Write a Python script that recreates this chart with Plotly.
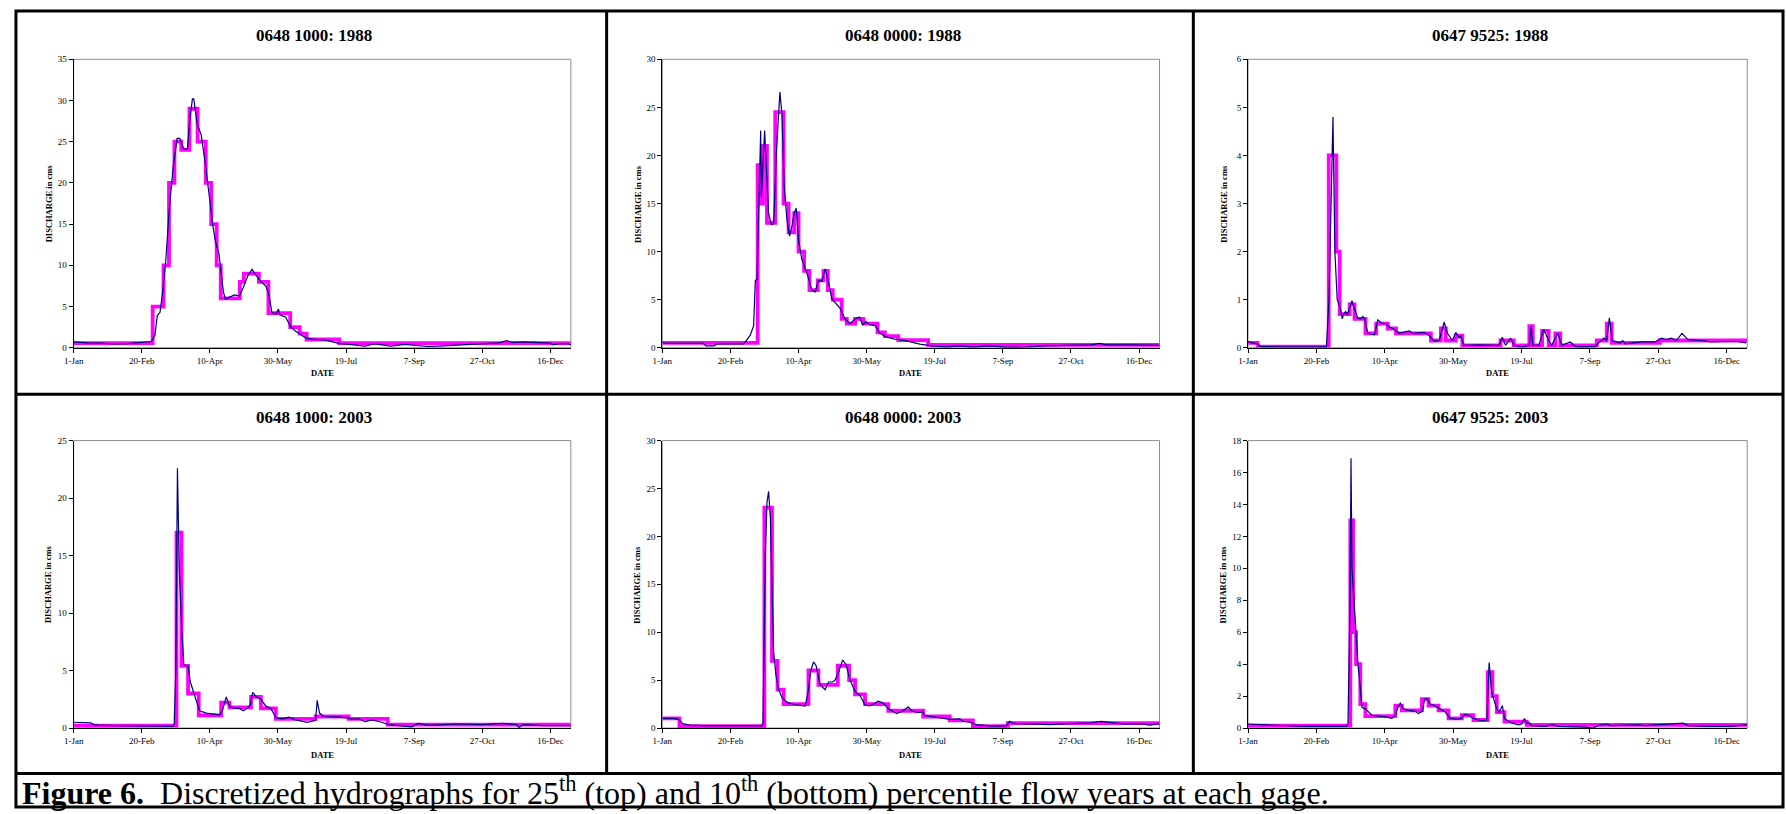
import plotly.graph_objects as go

W, H = 1786, 814

# ---------------- data ----------------
tick_days = [0, 50, 100, 150, 200, 250, 300, 350]
tick_labels = ["1-Jan", "20-Feb", "10-Apr", "30-May", "19-Jul", "7-Sep", "27-Oct", "16-Dec"]

titles = ["0648 1000: 1988", "0648 0000: 1988", "0647 9525: 1988",
          "0648 1000: 2003", "0648 0000: 2003", "0647 9525: 2003"]
y_max = [35, 30, 6, 25, 30, 18]
y_step = [5, 5, 1, 5, 5, 2]

# 0648 1000 : 1988
g1_88_day = [0, 3, 10, 20, 30, 40, 47, 52, 57, 59.7, 61.4, 63.4, 65.3, 67.7, 70.2, 73.1, 76, 77.9, 79.2, 80.9,
             83.5, 85.2, 87.2, 88.2, 90.6, 93.7, 96.9, 99.3, 102.2, 104.2, 106.6, 108.3, 110, 111.5, 114.4, 118,
             121.7, 124.6, 127.8, 131, 133.8, 137.5, 141.1, 143.6, 145.5, 148.4, 150.4, 151.3, 155.7, 159.4, 163,
             166.6, 170.3, 175.2, 184.9, 194.6, 204, 214, 221, 233, 243, 253, 260, 268, 280, 295, 305, 312, 318,
             322, 330, 340, 350, 352, 356, 362, 365]
g1_88_q = [0.7, 0.65, 0.6, 0.55, 0.45, 0.5, 0.6, 0.7, 0.75, 1.5, 3.9, 4.3, 6.7, 10.7, 16.8, 22, 25.4, 25.4, 24.8, 24.1,
           24.1, 27.6, 30.2, 30.2, 27.2, 25.8, 22, 18.4, 14.8, 12.8, 11.5, 9.1, 6.7, 5.9, 6.1, 6.4,
           6.3, 7.3, 8.7, 9.5, 8.8, 8.0, 7.5, 6.3, 4.3, 4.1, 4.7, 4.0, 3.7, 2.5, 2.0,
           1.6, 1.2, 1.05, 0.92, 0.52, 0.4, 0.2, 0.48, 0.2, 0.4, 0.24, 0.15, 0.2, 0.3, 0.4, 0.5, 0.6, 0.85,
           0.65, 0.7, 0.6, 0.55, 0.35, 0.5, 0.5, 0.35]
g1_88_step_day = [0, 58, 66, 70, 74, 79, 85, 91, 97, 101, 105, 108, 122, 125, 136, 143, 159, 166, 171, 195, 365]
g1_88_step_q = [0.55, 5, 10, 20, 25, 24, 29, 25, 20, 15, 10, 6, 8, 9, 8, 4.2, 2.5, 1.7, 1.0, 0.55, 0.55]

# 0648 0000 : 1988
g2_88_day = [0, 2, 30, 32, 38, 40, 59.8, 64.6, 67, 68.3, 69.5, 70.7, 72.2, 72.7, 73.4, 75.1, 76.1, 78, 80, 81.7,
             83.7, 85.4, 86.3, 87.8, 89.5, 91.5, 93.4, 95.1, 96.8, 98.3, 100, 102.4, 106.1, 109.8, 112.2, 114.6,
             117.1, 119.5, 122, 124.4, 126.8, 130.5, 134.1, 137.8, 141.5, 144.6, 147.1, 149.5, 152.4, 156.1,
             159.8, 164.6, 170.7, 179.3, 189, 198.8, 208.5, 218.3, 228, 240.2, 252.4, 265, 280, 300, 315, 321,
             326, 345, 365]
g2_88_q = [0.6, 0.45, 0.45, 0.2, 0.2, 0.4, 0.4, 1.3, 2.3, 7.0, 7.1, 15, 22.6, 15.7, 17.5, 22.6, 19.5, 14, 12.8, 12.9,
           20.2, 24.7, 26.6, 24.3, 16.8, 13.3, 11.6, 12.6, 14, 14.5, 11.2, 9.2, 7.8, 6.0, 5.8, 7.0,
           6.9, 8.2, 6.8, 5.1, 4.7, 4.1, 3.0, 2.5, 3.0, 3.2, 2.4, 2.7, 2.4, 2.3,
           1.5, 1.1, 0.9, 0.72, 0.38, 0.17, 0.1, 0.2, 0.07, 0.2, 0.07, 0.05, 0.2, 0.25, 0.3, 0.45,
           0.3, 0.3, 0.25]
g2_88_step_day = [0, 70, 72.7, 73.9, 76.8, 82.9, 89, 92.7, 96.8, 100, 104.1, 108, 114.1, 118.3, 121.5, 125.1,
                  131.7, 135.4, 141.5, 147.6, 158, 163.4, 173.2, 195.1, 365]
g2_88_step_q = [0.5, 19, 15, 21, 13, 24.5, 15, 12, 14, 10, 8, 6, 7, 8, 6, 5, 3, 2.5, 3, 2.5, 1.6, 1.2, 0.8, 0.3, 0.3]

# 0647 9525 : 1988
g3_88_day = [0, 3, 7, 9, 20, 57.3, 59.2, 60.2, 62.1, 63.5, 65.2, 67.5, 68.9, 69.9, 71.4, 72.6, 74.3, 76, 77.9, 80.3,
             82.3, 84, 85.2, 87.6, 90, 92.5, 94.9, 97.3, 101, 103.4, 107, 110.7, 117.9, 120.4, 128.8, 132.5, 136.1,
             139.8, 143.4, 145.8, 149.5, 151.9, 154.3, 155.5, 157.9, 168.9, 183.5, 185.9, 188.3, 192, 194.4, 200.4,
             205.7, 207, 208.2, 212.6, 216.2, 219.8, 222, 226.4, 229.5, 235.6, 239.2, 244, 253.8, 257.4, 260.3,
             262.3, 264.2, 266.3, 272, 274, 275.8, 287.7, 297.5, 302.3, 305.9, 309.6, 313.2, 317.3, 321.7, 331.4,
             338.6, 348.4, 358, 364.2]
g3_88_q = [0.13, 0.1, 0.08, 0.03, 0.02, 0.02, 1.0, 2.5, 4.8, 2.0, 1.0, 0.82, 0.6, 0.7, 0.75, 0.68, 0.85, 0.98, 0.8, 0.62,
           0.6, 0.65, 0.6, 0.3, 0.28, 0.27, 0.58, 0.52, 0.5, 0.43, 0.38, 0.3, 0.35, 0.3, 0.32, 0.25, 0.14,
           0.15, 0.53, 0.3, 0.15, 0.32, 0.2, 0.25, 0.05, 0.06, 0.05, 0.22, 0.05, 0.2, 0.05, 0.01,
           0.05, 0.45, 0.05, 0.05, 0.38, 0.15, 0.05, 0.3, 0.05, 0.12, 0.03, 0.02, 0.03, 0.12, 0.2,
           0.15, 0.62, 0.15, 0.1, 0.15, 0.08, 0.12, 0.12, 0.2, 0.17, 0.2, 0.15, 0.3, 0.17, 0.15,
           0.12, 0.13, 0.13, 0.1]
g3_88_step_day = [0, 7, 59, 64.6, 67, 74.3, 77.9, 85.9, 93.7, 102.2, 108.2, 133.7, 141, 144.6, 151.9, 156.7, 184.6,
                  194.3, 205.7, 208.2, 215, 219.8, 224.7, 228.3, 255, 262.3, 265.9, 301.1, 365]
g3_88_step_q = [0.1, 0.02, 4, 2, 0.7, 0.9, 0.6, 0.3, 0.5, 0.4, 0.3, 0.15, 0.4, 0.15, 0.25, 0.05, 0.15, 0.05, 0.45,
                0.05, 0.35, 0.05, 0.3, 0.05, 0.15, 0.5, 0.1, 0.15, 0.15]

# 0648 1000 : 2003
g1_03_day = [0, 8, 12.5, 15, 18, 30, 50, 73, 73.8, 75, 76.2, 77.5, 79.2, 80.9, 84, 85.7, 88.9, 92.5, 97.4, 102.2,
             107.1, 109.5, 112, 114.4, 118, 121.7, 124.6, 127.8, 129.7, 131.4, 134.3, 137.5, 141.1, 144.8, 148.4,
             153.3, 158.1, 163, 171.5, 175.2, 177.6, 178.8, 180.5, 183.7, 189.7, 195.8, 201.9, 204.3, 209.2, 214,
             218.9, 226.2, 231, 240.8, 248.1, 252.9, 260.2, 265, 280, 300, 315, 325, 327, 330, 345, 365]
g1_03_q = [0.5, 0.45, 0.45, 0.3, 0.25, 0.2, 0.15, 0.15, 0.3, 5, 22.6, 14, 9, 5.5, 5.4, 4, 2.8, 1.5, 1.3, 1.2,
           1.15, 1.6, 2.7, 1.9, 1.7, 1.7, 1.5, 1.75, 2.0, 3.1, 2.7, 2.5, 1.9, 1.7, 0.9,
           0.8, 0.95, 0.7, 0.5, 0.6, 0.65, 2.4, 1.3, 1.0, 1.0, 0.95, 0.85, 0.75, 0.8, 0.55,
           0.7, 0.5, 0.3, 0.2, 0.1, 0.4, 0.25, 0.25, 0.35, 0.3, 0.4, 0.3, 0.05, 0.3, 0.2, 0.2]
g1_03_step_day = [0, 75.5, 79.2, 84, 91.8, 108.3, 114.4, 130.2, 137.5, 148.4, 177.6, 201.9, 230.6, 365]
g1_03_step_q = [0.2, 17, 5.4, 3, 1.1, 2.2, 1.8, 2.7, 1.7, 0.8, 1.0, 0.8, 0.3, 0.3]

# 0648 0000 : 2003
g2_03_day = [0, 8, 12, 15, 20, 30, 50, 73, 73.9, 75.6, 76.8, 78, 79.3, 80.5, 81.7, 83.4, 85.4, 87.8, 91.5, 96.3,
             101.2, 104.9, 107.3, 109, 111, 112.9, 115.9, 119.5, 122, 125.1, 126.8, 129.3, 132.4, 134.9, 137.8,
             141.5, 145.1, 148.8, 152.4, 154.9, 158.5, 162.2, 165.9, 172, 176.8, 180.5, 182.9, 187.8, 191, 192.7,
             201.2, 211, 218.3, 220.7, 225.6, 230.5, 242.7, 252.4, 254.9, 256.8, 260, 270, 285, 300, 315, 322,
             330, 340, 350, 358, 365]
g2_03_q = [1.0, 1.0, 0.9, 0.45, 0.3, 0.25, 0.25, 0.25, 0.5, 18, 23.5, 24.7, 22, 13, 8, 5.5, 4.0, 3.2, 2.7, 2.45,
           2.4, 2.3, 4.0, 6, 6.9, 6.5, 4.5, 4.0, 4.8, 4.8, 5.0, 5.8, 7.1, 6.6, 5.0,
           3.8, 3.4, 2.4, 2.3, 2.5, 2.8, 2.6, 2.0, 1.5, 1.8, 2.2, 1.8, 1.6, 1.7, 1.3,
           1.1, 0.9, 0.95, 0.7, 0.6, 0.35, 0.2, 0.25, 0.7, 0.55, 0.45, 0.4, 0.35, 0.45, 0.55, 0.7,
           0.55, 0.4, 0.45, 0.3, 0.45]
g2_03_step_day = [0, 12.6, 74.9, 80.5, 84.6, 89, 107.3, 114.6, 128.8, 137.1, 141.5, 148.8, 165.9, 191.5, 211, 228,
                  253.7, 365]
g2_03_step_q = [1.0, 0.2, 23, 7, 4, 2.5, 6, 4.5, 6.5, 5, 3.5, 2.5, 1.8, 1.2, 0.8, 0.2, 0.5, 0.5]

# 0647 9525 : 2003
g3_03_day = [0, 10, 20, 40, 72, 73.1, 74.6, 75.3, 76, 77.3, 79, 80.4, 82.1, 83.3, 85.8, 90.6, 95.5, 100.4, 105.2,
             107.7, 109.6, 111.3, 113.7, 117.4, 122.3, 124.7, 127.6, 129.1, 130.8, 133.2, 136.4, 140.5, 144.2,
             147.8, 152.7, 156.3, 158.3, 161.2, 164.8, 170.9, 174.6, 176.3, 178.2, 181.9, 183.6, 186, 187.5,
             191.6, 197.7, 200.1, 202.1, 203.8, 205.5, 207.4, 217.2, 222.7, 226.9, 246.4, 252, 256.1, 262, 265,
             286, 290, 318, 322, 336, 353, 365]
g3_03_q = [0.25, 0.22, 0.15, 0.1, 0.1, 0.3, 8, 16.9, 10, 8.1, 6, 4, 2.5, 1.3, 1.2, 0.8, 0.75, 0.7, 0.6,
           0.8, 1.3, 1.55, 1.2, 1.1, 1.05, 0.9, 1.05, 1.8, 1.85, 1.5, 1.4, 1.2, 1.0,
           0.6, 0.55, 0.6, 0.85, 0.8, 0.6, 0.45, 0.5, 4.1, 2.2, 1.2, 1.0, 1.4, 0.6,
           0.35, 0.2, 0.25, 0.6, 0.3, 0.35, 0.15, 0.1, 0.2, 0.1, 0.05, 0.0, 0.15, 0.25, 0.15,
           0.2, 0.15, 0.3, 0.15, 0.1, 0.1, 0.2]
g3_03_step_day = [0, 74.8, 76.8, 79, 82.1, 85.8, 107.7, 112.5, 127.1, 132, 139.3, 146.6, 156.3, 164.8, 175.3,
                  178.7, 181.9, 187.5, 203.8, 365]
g3_03_step_q = [0.15, 13, 6, 4, 1.5, 0.75, 1.4, 1.1, 1.8, 1.4, 1.1, 0.6, 0.8, 0.5, 3.5, 2, 1.0, 0.4, 0.2, 0.2]

daily_days = [g1_88_day, g2_88_day, g3_88_day, g1_03_day, g2_03_day, g3_03_day]
daily_q = [g1_88_q, g2_88_q, g3_88_q, g1_03_q, g2_03_q, g3_03_q]
step_days = [g1_88_step_day, g2_88_step_day, g3_88_step_day, g1_03_step_day, g2_03_step_day, g3_03_step_day]
step_q = [g1_88_step_q, g2_88_step_q, g3_88_step_q, g1_03_step_q, g2_03_step_q, g3_03_step_q]

# ---------------- layout geometry (pixels) ----------------
col_x = [(64, 564), (656, 1156), (1245, 1747)]
row_y = [(55, 347), (441, 732)]
title_y = [31, 418]
date_y = [373, 759]

FONT = "Liberation Serif"
NAVY = "#000080"
MAG = "#FF00FF"


def px(x):
    return x / W


def py(y):
    return 1 - y / H


fig = go.Figure()
annotations = []
shapes = []
layout_axes = {}

for i in range(6):
    r, c = divmod(i, 3)
    x0, x1 = col_x[c]
    y0, y1 = row_y[r]
    n = "" if i == 0 else str(i + 1)
    xa, ya = "x" + n, "y" + n

    fig.add_trace(go.Scatter(x=step_days[i], y=step_q[i], mode="lines", line_shape="hv",
                             line=dict(color=MAG, width=3.8), xaxis=xa, yaxis=ya,
                             showlegend=False, hoverinfo="skip"))
    fig.add_trace(go.Scatter(x=daily_days[i], y=daily_q[i], mode="lines",
                             line=dict(color=NAVY, width=1.2), xaxis=xa, yaxis=ya,
                             showlegend=False, hoverinfo="skip"))

    layout_axes["xaxis" + n] = dict(
        domain=[px(x0), px(x1)], anchor=ya, range=[0, 365], tickmode="array",
        tickvals=tick_days, ticktext=tick_labels, showgrid=False, zeroline=False,
        showline=True, linecolor="black", linewidth=1, ticks="outside", ticklen=4,
        tickcolor="black", tickwidth=1, tickfont=dict(family=FONT, size=9, color="black"))
    layout_axes["yaxis" + n] = dict(
        domain=[py(y1), py(y0)], anchor=xa, range=[0, y_max[i]], dtick=y_step[i], tick0=0,
        showgrid=False, zeroline=False, showline=True, linecolor="black", linewidth=1,
        ticks="outside", ticklen=4, tickcolor="black", tickwidth=1,
        tickfont=dict(family=FONT, size=9, color="black"))

    # gray plot-area frame
    shapes.append(dict(type="rect", xref="paper", yref="paper", x0=px(x0), x1=px(x1), y0=py(y1), y1=py(y0),
                       line=dict(color="#8c8c8c", width=1), layer="below"))

    cx = (x0 + x1) / 2
    annotations.append(dict(text="<b>" + titles[i] + "</b>", x=px(cx - 8), y=py(title_y[r]), xref="paper",
                            yref="paper", showarrow=False, xanchor="center", yanchor="middle",
                            font=dict(family=FONT, size=17, color="black")))
    annotations.append(dict(text="<b>DATE</b>", x=px(cx), y=py(date_y[r]), xref="paper", yref="paper",
                            showarrow=False, xanchor="center", yanchor="middle",
                            font=dict(family=FONT, size=8.5, color="black")))
    annotations.append(dict(text="<b>DISCHARGE in cms</b>", x=px(x0 - 25), y=py((y0 + y1) / 2), xref="paper",
                            yref="paper", showarrow=False, xanchor="center", yanchor="middle", textangle=-90,
                            font=dict(family=FONT, size=8.5, color="black")))

# table borders
BL = dict(color="black", width=3)
shapes.append(dict(type="rect", xref="paper", yref="paper", x0=px(6), x1=px(1783), y0=py(812), y1=py(6), line=BL))
for xv in (600, 1190):
    shapes.append(dict(type="line", xref="paper", yref="paper", x0=px(xv), x1=px(xv), y0=py(778), y1=py(6), line=BL))
for yv in (394, 778):
    shapes.append(dict(type="line", xref="paper", yref="paper", x0=px(6), x1=px(1783), y0=py(yv), y1=py(yv), line=BL))

annotations.append(dict(
    text="<b>Figure 6.</b>  Discretized hydrographs for 25<sup>th</sup> (top) and 10<sup>th</sup> (bottom) percentile flow years at each gage.",
    x=px(10), y=py(796), xref="paper", yref="paper", showarrow=False, xanchor="left", yanchor="middle",
    font=dict(family=FONT, size=32, color="black")))

fig.update_layout(width=W, height=H, margin=dict(l=0, r=0, t=0, b=0), autosize=False,
                  paper_bgcolor="white", plot_bgcolor="white", annotations=annotations, shapes=shapes,
                  **layout_axes)

fig.write_html("out.html", post_script="document.body.style.margin='0';")
